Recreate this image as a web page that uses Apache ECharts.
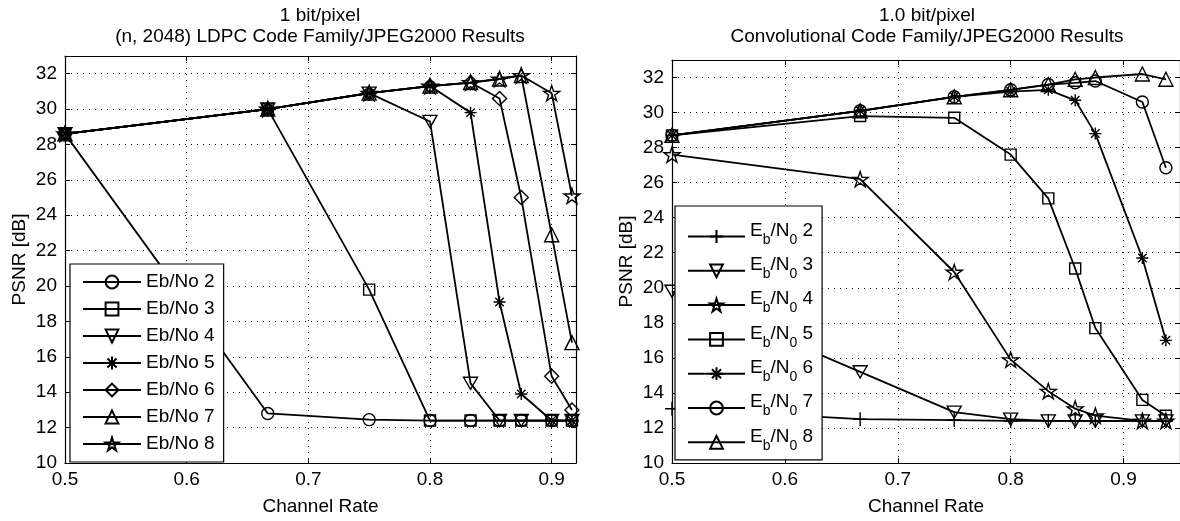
<!DOCTYPE html>
<html>
<head>
<meta charset="utf-8">
<script src="https://cdn.jsdelivr.net/npm/echarts@6/dist/echarts.min.js"></script>
<style>
  html, body { margin: 0; padding: 0; background: #fff; }
  #chart { width: 1180px; height: 521px; }
</style>
</head>
<body>
<div id="chart"></div>
<script>
// ---- LDPC code family (left panel) ----
const ldpcRates = [0.5, 2/3, 0.75, 0.8, 5/6, 6/7, 7/8, 0.9, 11/12];
const ldpcNames = ['Eb/No 2', 'Eb/No 3', 'Eb/No 4', 'Eb/No 5', 'Eb/No 6', 'Eb/No 7', 'Eb/No 8'];
const ldpcEbNo2 = [28.6, 12.8, 12.45, 12.4, 12.4, 12.4, 12.4, 12.4, 12.4];
const ldpcEbNo3 = [28.6, 30.0, 19.8, 12.4, 12.4, 12.4, 12.4, 12.4, 12.4];
const ldpcEbNo4 = [28.6, 30.0, 30.9, 29.3, 14.5, 12.4, 12.4, 12.4, 12.4];
const ldpcEbNo5 = [28.6, 30.0, 30.9, 31.3, 29.8, 19.1, 13.9, 12.4, 12.4];
const ldpcEbNo6 = [28.6, 30.0, 30.9, 31.3, 31.5, 30.6, 25.0, 14.9, 13.0];
const ldpcEbNo7 = [28.6, 30.0, 30.9, 31.3, 31.5, 31.7, 31.9, 22.9, 16.8];
const ldpcEbNo8 = [28.6, 30.0, 30.9, 31.3, 31.5, 31.7, 31.9, 30.9, 25.1];

// ---- Convolutional code family (right panel) ----
const convRates = [0.5, 2/3, 0.75, 0.8, 5/6, 6/7, 7/8, 11/12, 15/16];
const convNames = ['Eb/N0 2', 'Eb/N0 3', 'Eb/N0 4', 'Eb/N0 5', 'Eb/N0 6', 'Eb/N0 7', 'Eb/N0 8'];
const convEbN02 = [13.1, 12.5, 12.45, 12.4, 12.4, 12.4, 12.4, 12.4, 12.4];
const convEbN03 = [19.8, 15.2, 12.9, 12.5, 12.4, 12.4, 12.4, 12.4, 12.4];
const convEbN04 = [27.6, 26.2, 20.9, 15.9, 14.1, 13.1, 12.7, 12.4, 12.4];
const convEbN05 = [28.7, 29.8, 29.7, 27.6, 25.1, 21.1, 17.7, 13.6, 12.7];
const convEbN06 = [28.7, 30.1, 30.9, 31.2, 31.3, 30.7, 28.8, 21.7, 17.0];
const convEbN07 = [28.7, 30.1, 30.9, 31.3, 31.6, 31.7, 31.8, 30.6, 26.85];
const convEbN08 = [28.7, 30.1, 30.9, 31.3, 31.6, 31.9, 32.0, 32.2, 31.9];

// ---- axis ticks ----
const yTickMin = 10, yTickMax = 33, yTickStep = 2;
const xTickMin = 0.5, xTickStep = 0.1;

// Marker outlines (open symbols like the classic plotting markers)
const SYM = {
  circle: 'circle',
  square: 'rect',
  triDown: 'path://M0,0 L10,0 L5,8.66 Z',
  triUp: 'triangle',
  diamond: 'diamond',
  asterisk: 'path://M0,-10 L0,10 M-10,0 L10,0 M-7.07,-7.07 L7.07,7.07 M-7.07,7.07 L7.07,-7.07',
  star: 'path://M100,0 L122.45,69.1 L195.1,69.1 L136.3,111.8 L158.8,180.9 L100,138.2 L41.2,180.9 L63.7,111.8 L4.9,69.1 L77.55,69.1 Z',
  plus: 'path://M0,-10 L0,10 M-10,0 L10,0'
};
const SIZE = { circle: 12, square: 11, triDown: 14, triUp: 14, diamond: 14, asterisk: 12, star: 16, plus: 14 };

const FONT = 'Liberation Sans, Arial, Helvetica, sans-serif';

function makeSeries(name, rates, values, sym, idx) {
  return {
    name: name,
    type: 'line',
    xAxisIndex: idx,
    yAxisIndex: idx,
    data: rates.map((r, i) => [r, values[i]]),
    symbol: SYM[sym],
    symbolSize: SIZE[sym],
    symbolKeepAspect: true,
    showAllSymbol: true,
    lineStyle: { color: '#000', width: 1.8 },
    itemStyle: { color: 'rgba(255,255,255,0)', borderColor: '#000', borderWidth: 1.4 },
    emphasis: { disabled: true },
    z: 3
  };
}

function mainX(idx, max) {
  return {
    type: 'value', gridIndex: idx, min: xTickMin, max: max, interval: xTickStep,
    name: 'Channel Rate', nameLocation: 'middle', nameGap: 34,
    nameTextStyle: { fontFamily: FONT, fontSize: 19, color: '#000' },
    axisLine: { show: true, onZero: false, lineStyle: { color: '#000', width: 1.2 } },
    axisTick: { show: true, inside: true, length: 5, lineStyle: { color: '#000' } },
    axisLabel: { fontFamily: FONT, fontSize: 19, color: '#000', margin: 7, showMaxLabel: false },
    splitLine: { show: true, lineStyle: { color: '#000', width: 1, type: [1, 5] } }
  };
}
function topX(idx, max) {
  return {
    type: 'value', gridIndex: idx, position: 'top', min: xTickMin, max: max, interval: xTickStep,
    axisLine: { show: true, onZero: false, lineStyle: { color: '#000', width: 1.2 } },
    axisTick: { show: true, inside: true, length: 5, lineStyle: { color: '#000' } },
    axisLabel: { show: false }, splitLine: { show: false }
  };
}
function mainY(idx) {
  return {
    type: 'value', gridIndex: idx, min: yTickMin, max: yTickMax, interval: yTickStep,
    name: 'PSNR [dB]', nameLocation: 'middle', nameGap: 36,
    nameTextStyle: { fontFamily: FONT, fontSize: 19, color: '#000' },
    axisLine: { show: true, onZero: false, lineStyle: { color: '#000', width: 1.2 } },
    axisTick: { show: true, inside: true, length: 5, lineStyle: { color: '#000' } },
    axisLabel: { fontFamily: FONT, fontSize: 19, color: '#000', margin: 8, showMaxLabel: false },
    splitLine: { show: true, lineStyle: { color: '#000', width: 1, type: [1, 5] } }
  };
}
function rightY(idx) {
  return {
    type: 'value', gridIndex: idx, position: 'right', min: yTickMin, max: yTickMax, interval: yTickStep,
    axisLine: { show: true, onZero: false, lineStyle: { color: '#000', width: 1.2 } },
    axisTick: { show: true, inside: true, length: 5, lineStyle: { color: '#000' } },
    axisLabel: { show: false }, splitLine: { show: false }
  };
}

const ldpcSyms = ['circle', 'square', 'triDown', 'asterisk', 'diamond', 'triUp', 'star'];
const convSyms = ['plus', 'triDown', 'star', 'square', 'asterisk', 'circle', 'triUp'];
const ldpcData = [ldpcEbNo2, ldpcEbNo3, ldpcEbNo4, ldpcEbNo5, ldpcEbNo6, ldpcEbNo7, ldpcEbNo8];
const convData = [convEbN02, convEbN03, convEbN04, convEbN05, convEbN06, convEbN07, convEbN08];

const series = [];
ldpcNames.forEach((n, i) => series.push(makeSeries(n, ldpcRates, ldpcData[i], ldpcSyms[i], 0)));
convNames.forEach((n, i) => series.push(makeSeries(n, convRates, convData[i], convSyms[i], 1)));

const chart = echarts.init(document.getElementById('chart'), null, { renderer: 'canvas' });
chart.setOption({
  animation: false,
  backgroundColor: '#fff',
  title: [
    {
      text: '1 bit/pixel\n(n, 2048) LDPC Code Family/JPEG2000 Results',
      left: 320, top: 5, textAlign: 'center', padding: 0,
      textStyle: { fontFamily: FONT, fontSize: 19, fontWeight: 'normal', color: '#000', lineHeight: 21 }
    },
    {
      text: '1.0 bit/pixel\nConvolutional Code Family/JPEG2000 Results',
      left: 927, top: 5, textAlign: 'center', padding: 0,
      textStyle: { fontFamily: FONT, fontSize: 19, fontWeight: 'normal', color: '#000', lineHeight: 21 }
    }
  ],
  grid: [
    { left: 65, right: 604, top: 56, bottom: 55, containLabel: false },
    { left: 672, right: -3, top: 60, bottom: 54, containLabel: false }
  ],
  xAxis: [mainX(0, 0.92), mainX(1, 0.95), topX(0, 0.92), topX(1, 0.95)],
  yAxis: [mainY(0), mainY(1), rightY(0), rightY(1)],
  legend: [
    {
      data: ldpcNames, orient: 'vertical', left: 70, top: 264,
      padding: [8, 9, 8, 12], itemGap: 7, itemWidth: 58, itemHeight: 16,
      backgroundColor: '#fff', borderColor: '#000', borderWidth: 1.2, borderRadius: 0,
      selectedMode: false,
      textStyle: { fontFamily: FONT, fontSize: 19, color: '#000', lineHeight: 20 }
    },
    {
      data: convNames, orient: 'vertical', left: 675, top: 206,
      padding: [15, 9, 7, 12], itemGap: 8.3, itemWidth: 57, itemHeight: 16,
      backgroundColor: '#fff', borderColor: '#000', borderWidth: 1.2, borderRadius: 0,
      selectedMode: false,
      formatter: function (name) {
        return '{n|E}{s|b}{n|/N}{s|0}{n| ' + name.split(' ')[1] + '}';
      },
      textStyle: {
        fontFamily: FONT, fontSize: 19, color: '#000',
        rich: {
          n: { fontFamily: FONT, fontSize: 19, color: '#000', lineHeight: 31, verticalAlign: 'top' },
          s: { fontFamily: FONT, fontSize: 14, color: '#000', lineHeight: 31, verticalAlign: 'top', padding: [12, 0, 0, 0] }
        }
      }
    }
  ],
  series: series
});
</script>
</body>
</html>
